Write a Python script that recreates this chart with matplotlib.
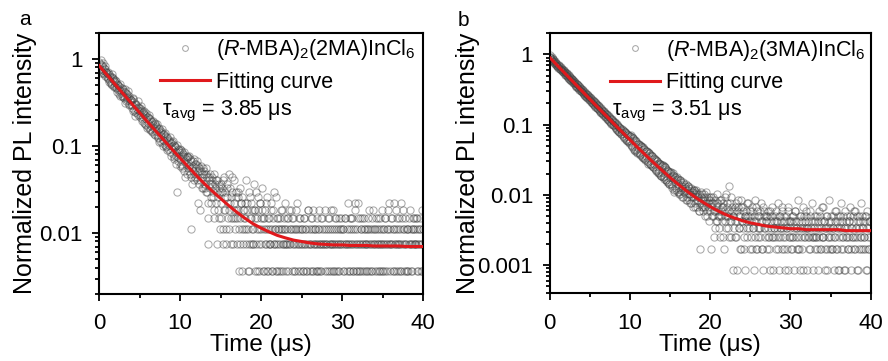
import numpy as np
import matplotlib
matplotlib.use('Agg')
from matplotlib import pyplot as plt
from matplotlib.ticker import LogLocator, NullFormatter

plt.rcParams['font.family'] = 'Liberation Sans'
plt.rcParams['mathtext.fontset'] = 'custom'
plt.rcParams['mathtext.rm'] = 'Liberation Sans'
plt.rcParams['mathtext.it'] = 'Liberation Sans:italic'

# TCSPC channels are 0.05 us apart; counts are listed as even channels
# (0.0, 0.1, ...) and odd channels (0.05, 0.15, ...)
t_even = np.round(np.arange(400) * 0.1, 2)
t_odd = np.round(t_even + 0.05, 2)

# photon counts, (R-MBA)2(2MA)InCl6, normalised by the peak count
peak_2ma = 270
counts_2ma_even = [
    248, 209, 262, 197, 224, 186, 215, 171, 206, 194,
    188, 160, 181, 151, 174, 139, 166, 158, 131, 150,
    147, 124, 141, 119, 135, 108, 129, 116, 102, 121,
    117, 96, 112, 88, 107, 92, 99, 83, 95, 79,
    91, 74, 97, 71, 83, 66, 79, 64, 76, 69,
    73, 58, 69, 55, 66, 50, 63, 61, 47, 58,
    58, 45, 56, 42, 53, 40, 51, 47, 37, 48,
    46, 36, 44, 33, 42, 31, 40, 38, 29, 37,
    37, 28, 35, 26, 34, 25, 32, 30, 23, 29,
    30, 22, 28, 19, 27, 21, 8, 25, 18, 24,
    25, 17, 23, 16, 22, 14, 20, 19, 13, 21,
    20, 14, 19, 12, 3, 15, 18, 11, 17, 13,
    17, 11, 16, 10, 15, 5, 14, 12, 9, 13,
    14, 9, 13, 8, 6, 2, 12, 10, 7, 11,
    12, 7, 4, 10, 6, 11, 8, 5, 9, 3,
    10, 4, 8, 2, 12, 5, 7, 3, 9, 6,
    13, 3, 6, 4, 8, 2, 5, 11, 4, 7,
    2, 5, 8, 1, 4, 6, 3, 7, 2, 5,
    4, 11, 2, 6, 3, 1, 7, 4, 2, 5,
    3, 10, 1, 5, 2, 4, 7, 3, 1, 6,
    2, 9, 4, 1, 3, 5, 2, 7, 3, 1,
    4, 2, 6, 3, 1, 5, 2, 3, 7, 2,
    1, 4, 3, 2, 5, 1, 3, 2, 4, 6,
    3, 1, 2, 4, 2, 0, 3, 5, 1, 2,
    4, 2, 1, 3, 6, 2, 1, 4, 3, 0,
    2, 3, 1, 4, 2, 0, 3, 1, 5, 2,
    1, 3, 2, 4, 1, 2, 0, 3, 2, 1,
    3, 2, 5, 1, 2, 4, 0, 2, 3, 1,
    2, 1, 3, 0, 4, 2, 1, 3, 2, 5,
    1, 2, 4, 3, 0, 2, 1, 3, 2, 4,
    2, 3, 1, 0, 4, 2, 1, 6, 3, 2,
    1, 4, 2, 3, 1, 0, 5, 2, 3, 1,
    6, 2, 1, 3, 2, 4, 0, 1, 3, 2,
    2, 1, 3, 5, 2, 0, 1, 4, 2, 3,
    3, 2, 0, 1, 4, 2, 3, 1, 2, 5,
    1, 3, 2, 4, 0, 2, 1, 3, 6, 2,
    2, 0, 4, 1, 3, 2, 5, 1, 2, 3,
    4, 1, 2, 6, 0, 3, 2, 1, 4, 2,
    1, 3, 2, 0, 5, 1, 2, 4, 3, 2,
    3, 2, 1, 4, 2, 0, 3, 1, 2, 5,
]
counts_2ma_odd = [
    201, 238, 185, 229, 204, 243, 181, 226, 192, 168,
    163, 194, 149, 170, 143, 182, 137, 162, 128, 155,
    129, 153, 113, 137, 122, 101, 140, 109, 126, 98,
    101, 121, 85, 110, 97, 116, 81, 101, 88, 92,
    80, 94, 68, 87, 60, 82, 72, 88, 61, 74,
    61, 77, 52, 70, 58, 68, 49, 64, 55, 44,
    50, 61, 41, 55, 46, 39, 52, 43, 50, 36,
    40, 48, 34, 43, 30, 39, 35, 42, 32, 27,
    31, 38, 27, 33, 24, 31, 28, 34, 21, 27,
    25, 31, 20, 26, 23, 17, 28, 20, 23, 16,
    19, 24, 15, 21, 18, 23, 12, 17, 20, 15,
    16, 21, 13, 18, 10, 16, 14, 19, 12, 15,
    12, 18, 6, 14, 11, 16, 9, 13, 15, 10,
    10, 15, 8, 12, 4, 11, 9, 13, 6, 10,
    8, 13, 5, 9, 11, 2, 7, 10, 4, 8,
    6, 9, 3, 11, 5, 8, 2, 7, 10, 4,
    5, 9, 2, 7, 12, 4, 6, 3, 8, 5,
    4, 7, 3, 9, 2, 6, 1, 5, 4, 3,
    6, 3, 5, 1, 8, 2, 4, 6, 3, 2,
    2, 5, 4, 8, 3, 1, 5, 2, 6, 4,
    3, 5, 1, 4, 2, 6, 3, 1, 4, 2,
    2, 3, 5, 1, 4, 2, 8, 3, 1, 4,
    3, 2, 1, 4, 3, 5, 2, 1, 3, 2,
    2, 4, 3, 1, 5, 2, 3, 0, 4, 3,
    1, 3, 2, 5, 0, 3, 2, 4, 1, 2,
    3, 1, 4, 2, 3, 1, 2, 5, 0, 3,
    2, 4, 1, 3, 5, 2, 3, 1, 4, 2,
    1, 3, 2, 4, 1, 3, 2, 0, 5, 2,
    3, 2, 4, 1, 2, 3, 5, 2, 1, 3,
    2, 4, 1, 2, 3, 1, 4, 2, 3, 0,
    3, 1, 2, 4, 2, 3, 0, 2, 1, 4,
    2, 3, 4, 1, 2, 6, 3, 1, 2, 4,
    1, 4, 2, 3, 1, 2, 4, 3, 2, 1,
    3, 2, 4, 1, 3, 2, 1, 3, 5, 2,
    1, 4, 2, 3, 2, 1, 4, 2, 3, 1,
    2, 3, 1, 4, 2, 3, 5, 2, 1, 3,
    4, 2, 3, 1, 6, 2, 3, 4, 2, 1,
    2, 3, 1, 4, 2, 5, 3, 2, 1, 3,
    3, 1, 4, 2, 3, 2, 1, 3, 4, 2,
    2, 4, 3, 1, 2, 3, 4, 2, 1, 3,
]

# photon counts, (R-MBA)2(3MA)InCl6
peak_3ma = 1180
counts_3ma_even = [
    1098, 1142, 1035, 968, 1002, 905, 936, 861, 889, 812,
    846, 762, 801, 719, 758, 681, 716, 652, 688, 606,
    648, 578, 611, 547, 579, 515, 549, 487, 521, 462,
    494, 436, 468, 409, 443, 391, 417, 370, 398, 351,
    377, 331, 356, 312, 338, 296, 319, 281, 303, 266,
    289, 251, 274, 236, 259, 224, 246, 212, 232, 203,
    221, 190, 210, 179, 198, 170, 187, 161, 178, 152,
    169, 144, 160, 136, 153, 128, 144, 122, 137, 115,
    130, 109, 123, 102, 117, 97, 110, 92, 105, 88,
    101, 82, 97, 76, 92, 72, 88, 68, 84, 65,
    82, 61, 79, 57, 75, 53, 71, 51, 68, 48,
    63, 47, 61, 44, 58, 41, 56, 39, 53, 37,
    50, 36, 48, 33, 46, 32, 44, 30, 42, 29,
    39, 28, 37, 26, 36, 24, 34, 23, 33, 22,
    31, 21, 30, 20, 29, 19, 27, 18, 26, 17,
    25, 17, 22, 15, 24, 13, 21, 19, 14, 20,
    20, 13, 19, 12, 18, 15, 11, 17, 13, 16,
    17, 11, 16, 10, 15, 12, 9, 14, 11, 13,
    14, 9, 13, 8, 12, 10, 7, 2, 9, 11,
    12, 8, 11, 6, 10, 13, 7, 9, 5, 11,
    10, 2, 9, 6, 11, 7, 4, 8, 12, 5,
    9, 6, 3, 10, 7, 5, 8, 2, 11, 6,
    4, 8, 6, 16, 3, 9, 5, 7, 1, 6,
    7, 3, 9, 5, 1, 8, 4, 6, 2, 10,
    5, 8, 3, 6, 1, 7, 4, 9, 5, 2,
    6, 3, 8, 4, 1, 5, 10, 2, 7, 4,
    3, 6, 4, 9, 2, 5, 1, 7, 4, 6,
    5, 2, 7, 3, 6, 1, 4, 8, 3, 5,
    4, 6, 2, 5, 9, 3, 1, 6, 4, 2,
    7, 3, 5, 1, 4, 6, 2, 8, 3, 5,
    4, 2, 6, 3, 5, 1, 7, 4, 2, 10,
    3, 5, 1, 6, 4, 2, 8, 3, 5, 4,
    6, 1, 4, 3, 7, 2, 5, 9, 3, 4,
    2, 5, 3, 6, 1, 4, 7, 2, 5, 3,
    8, 3, 5, 2, 4, 6, 1, 3, 10, 4,
    3, 6, 2, 4, 1, 5, 3, 7, 2, 6,
    4, 1, 5, 9, 3, 2, 6, 4, 1, 5,
    6, 3, 2, 5, 8, 4, 1, 3, 6, 2,
    3, 7, 4, 1, 5, 2, 6, 3, 9, 4,
    5, 2, 3, 6, 1, 4, 7, 2, 5, 3,
]
counts_3ma_odd = [
    1061, 982, 1089, 940, 1010, 887, 951, 845, 902, 797,
    779, 829, 731, 784, 704, 742, 668, 705, 627, 661,
    597, 633, 558, 591, 533, 563, 502, 534, 476, 505,
    455, 482, 423, 451, 400, 428, 379, 406, 359, 384,
    346, 368, 322, 347, 304, 326, 289, 311, 271, 292,
    262, 283, 244, 266, 230, 252, 218, 238, 206, 225,
    200, 216, 185, 204, 175, 193, 166, 183, 157, 173,
    153, 166, 141, 157, 133, 149, 125, 141, 118, 132,
    116, 128, 106, 120, 99, 113, 94, 107, 88, 100,
    90, 98, 79, 94, 74, 89, 70, 85, 66, 80,
    68, 84, 58, 76, 52, 72, 50, 67, 47, 63,
    54, 62, 45, 59, 42, 56, 40, 53, 38, 49,
    42, 49, 35, 46, 33, 44, 31, 42, 29, 38,
    32, 38, 27, 36, 25, 34, 24, 32, 22, 30,
    25, 31, 21, 29, 19, 28, 18, 26, 17, 24,
    21, 25, 16, 23, 14, 22, 18, 15, 21, 13,
    17, 12, 19, 14, 16, 11, 18, 13, 15, 10,
    14, 10, 16, 12, 9, 15, 11, 13, 8, 14,
    12, 8, 14, 10, 11, 7, 12, 9, 13, 8,
    10, 7, 12, 8, 9, 6, 11, 8, 10, 7,
    8, 11, 6, 9, 3, 10, 7, 5, 9, 6,
    7, 4, 10, 6, 8, 3, 9, 7, 5, 12,
    6, 9, 4, 7, 5, 11, 3, 8, 6, 4,
    8, 5, 3, 7, 10, 4, 6, 2, 8, 5,
    4, 7, 2, 6, 5, 9, 3, 6, 4, 7,
    5, 2, 7, 4, 6, 3, 8, 5, 2, 6,
    4, 7, 3, 5, 2, 8, 4, 6, 3, 5,
    6, 3, 4, 2, 7, 5, 3, 6, 1, 4,
    3, 5, 7, 4, 2, 6, 4, 3, 5, 8,
    4, 2, 6, 3, 5, 4, 7, 1, 5, 3,
    5, 3, 2, 6, 4, 7, 3, 5, 4, 2,
    2, 6, 4, 3, 5, 1, 4, 6, 3, 7,
    4, 3, 5, 2, 6, 4, 3, 1, 5, 3,
    6, 3, 2, 4, 5, 3, 6, 4, 2, 8,
    3, 5, 4, 1, 6, 2, 4, 5, 3, 2,
    5, 2, 4, 6, 3, 7, 2, 4, 5, 1,
    3, 6, 2, 4, 5, 3, 1, 7, 4, 3,
    4, 2, 5, 3, 6, 2, 4, 3, 5, 7,
    2, 4, 6, 3, 1, 4, 5, 2, 3, 6,
    4, 3, 5, 2, 6, 1, 3, 4, 2, 5,
]

# fitted decay, sampled every 1 us
fit_time = np.arange(41)
fit_2ma = [0.840, 0.654, 0.509, 0.397, 0.310, 0.242, 0.189, 0.149, 0.117, 0.0920,
           0.0728, 0.0578, 0.0460, 0.0370, 0.0302, 0.0250, 0.0207, 0.0174, 0.0148, 0.0128,
           0.0114, 0.0103, 0.0094, 0.0088, 0.0083, 0.0080, 0.0077, 0.0075, 0.0074, 0.0073,
           0.0073, 0.0072, 0.0072, 0.0072, 0.0071, 0.0071, 0.0071, 0.0071, 0.0070, 0.0070,
           0.0070]
fit_3ma = [0.903, 0.687, 0.523, 0.398, 0.303, 0.231, 0.176, 0.135, 0.103, 0.0791,
           0.0608, 0.0469, 0.0364, 0.0284, 0.0224, 0.0177, 0.0142, 0.0115, 0.0095, 0.0080,
           0.0068, 0.0059, 0.0052, 0.0047, 0.0043, 0.0040, 0.0038, 0.0036, 0.0035, 0.0034,
           0.0033, 0.0033, 0.0032, 0.0032, 0.0032, 0.0032, 0.0032, 0.0031, 0.0031, 0.0031,
           0.0031]

labels = [r'($\mathit{R}$-MBA)$_2$(2MA)InCl$_6$', r'($\mathit{R}$-MBA)$_2$(3MA)InCl$_6$']
tau_avg = [3.85, 3.51]

FS = 15.5

fig = plt.figure(figsize=(8.88, 3.61), dpi=100)
ax_a = fig.add_axes([0.1115, 0.186, 0.365, 0.723])
ax_b = fig.add_axes([0.619, 0.188, 0.3615, 0.720])


def draw(ax, even, odd, peak, fit, label, tau, ylim, yticks, ylabel_xy):
    t = np.concatenate([t_even, t_odd])
    y = np.array(even + odd, dtype=float) / peak
    ok = y > 0
    ax.plot(t[ok], y[ok], 'o', ms=5.2, mfc='none', mec=(0.25, 0.25, 0.25, 0.45),
            mew=0.75, label=label, zorder=2)
    ax.plot(fit_time, fit, c='#e0191c', lw=2.2, label='Fitting curve', zorder=3)

    ax.set_yscale('log')
    ax.set_xlim(0, 40)
    ax.set_ylim(*ylim)
    ax.set_xticks([0, 10, 20, 30, 40])
    ax.set_xticks([5, 15, 25, 35], minor=True)
    ax.set_yticks(yticks, labels=[f'{v:g}' for v in yticks])
    ax.yaxis.set_minor_locator(LogLocator(base=10, subs=np.arange(2, 10)))
    ax.yaxis.set_minor_formatter(NullFormatter())

    ax.tick_params(which='both', direction='out', width=1.3, labelsize=16)
    ax.tick_params(which='major', length=5)
    ax.tick_params(which='minor', length=3)
    ax.tick_params(axis='x', pad=9)
    ax.tick_params(axis='y', pad=7)
    for s in ax.spines.values():
        s.set_linewidth(1.5)

    ax.set_xlabel('Time (μs)', fontsize=17.5, labelpad=0)
    ax.set_ylabel('Normalized PL intensity', fontsize=18)
    ax.yaxis.set_label_coords(*ylabel_xy)

    ax.legend(loc='upper left', bbox_to_anchor=(0.175, 1.0), frameon=False,
              fontsize=FS, handlelength=2.3, handletextpad=0.3, borderpad=0.2,
              borderaxespad=0, labelspacing=0.45, markerscale=0.8)
    ax.text(0.195, 0.684, r'τ$_{\mathrm{avg}}$ = ' + f'{tau} μs', transform=ax.transAxes,
            fontsize=FS, va='baseline')


draw(ax_a, counts_2ma_even, counts_2ma_odd, peak_2ma, fit_2ma, labels[0], tau_avg[0],
     (0.002, 2), [1, 0.1, 0.01], (-0.19, 0.5))
draw(ax_b, counts_3ma_even, counts_3ma_odd, peak_3ma, fit_3ma, labels[1], tau_avg[1],
     (0.0004, 2), [1, 0.1, 0.01, 0.001], (-0.216, 0.5))

fig.text(0.021, 0.932, 'a', fontsize=15)
fig.text(0.515, 0.928, 'b', fontsize=15)

fig.savefig('out.png', dpi=100)
